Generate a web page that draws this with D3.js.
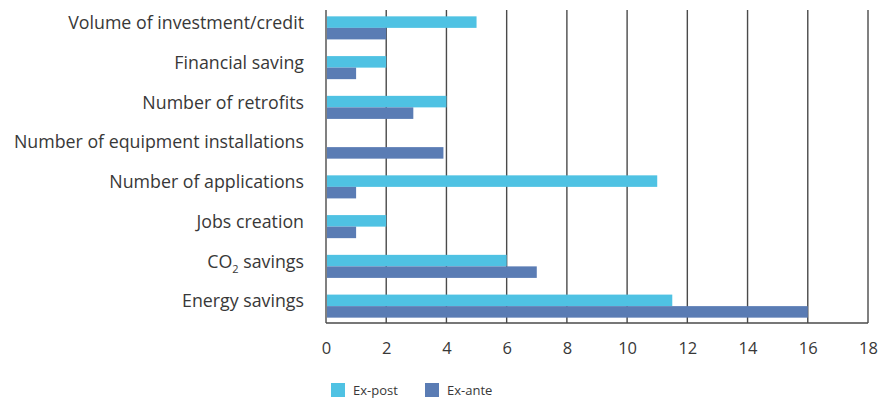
<!DOCTYPE html>
<html><head><meta charset="utf-8">
<script src="https://cdn.jsdelivr.net/npm/d3@7"></script>
<style>
html,body{margin:0;padding:0;background:#fff;}
text{font-family:"Open Sans",sans-serif;fill:#383838;}
</style></head>
<body><svg id="c" width="879" height="401"></svg>
<script>
const categories = ["Volume of investment/credit","Financial saving","Number of retrofits","Number of equipment installations","Number of applications","Jobs creation","CO2 savings","Energy savings"];
const seriesNames = ["Ex-post","Ex-ante"];
const exPost = [5, 2, 4, 0, 11, 2, 6, 11.5];
const exAnte = [2, 1, 2.9, 3.9, 1, 1, 7, 16];
const xTicks = [0,2,4,6,8,10,12,14,16,18];
const colors = ["#4fc2e3","#5a7cb4"];

const svg = d3.select("#c");
const x = d3.scaleLinear().domain([0,18]).range([326,868]);
const y = d3.scaleBand().domain(categories).range([8,326]).paddingInner(0.42).paddingOuter(0.21);
const ys = d3.scaleBand().domain(seriesNames).range([0,y.bandwidth()]);
const plotTop = 10, plotBottom = 323;

// gridlines
svg.append("g").selectAll("line").data(xTicks).join("line")
  .attr("x1",d=>x(d)).attr("x2",d=>x(d)).attr("y1",plotTop).attr("y2",plotBottom)
  .attr("stroke","#4a4a4a").attr("stroke-width",1.4);
svg.append("line").attr("x1",x(0)).attr("x2",x(18)).attr("y1",plotBottom).attr("y2",plotBottom)
  .attr("stroke","#4a4a4a").attr("stroke-width",1.4);

const data = categories.map((c,i)=>({c, vals:[exPost[i],exAnte[i]]}));
const g = svg.append("g");
data.forEach(d=>{
  d.vals.forEach((v,j)=>{
    if(v<=0) return;
    g.append("rect").attr("x",x(0)+1).attr("y",y(d.c)+ys(seriesNames[j]))
     .attr("width",x(v)-x(0)-1).attr("height",ys.bandwidth()).attr("fill",colors[j]);
  });
});

// x axis labels
const xAxis = d3.axisBottom(x).tickValues(xTicks).tickSize(0).tickPadding(0).tickFormat(d3.format("d"));
const ax = svg.append("g").attr("transform",`translate(0,${plotBottom+19})`).call(xAxis);
ax.select(".domain").remove();
ax.selectAll("text").attr("font-size",16.5).attr("font-family","Open Sans").attr("fill","#383838").attr("dy","0.71em");

// category labels
const cl = svg.append("g");
categories.forEach(c=>{
  const t = cl.append("text").attr("x",304).attr("y",y(c)+y.bandwidth()/2-5).attr("dy","0.35em")
    .attr("text-anchor","end").attr("font-size",17.8);
  if(c==="CO2 savings"){
    t.append("tspan").text("CO");
    t.append("tspan").text("2").attr("font-size",11).attr("dy","5");
    t.append("tspan").text(" savings").attr("dy","-5");
  } else t.text(c);
});

// legend
const lg = svg.append("g");
const lx = [331,425];
seriesNames.forEach((s,i)=>{
  lg.append("rect").attr("x",lx[i]).attr("y",383).attr("width",14).attr("height",14).attr("fill",colors[i]);
  lg.append("text").attr("x",lx[i]+22).attr("y",390).attr("dy","0.35em").attr("font-size",13).text(s);
});
</script></body></html>
